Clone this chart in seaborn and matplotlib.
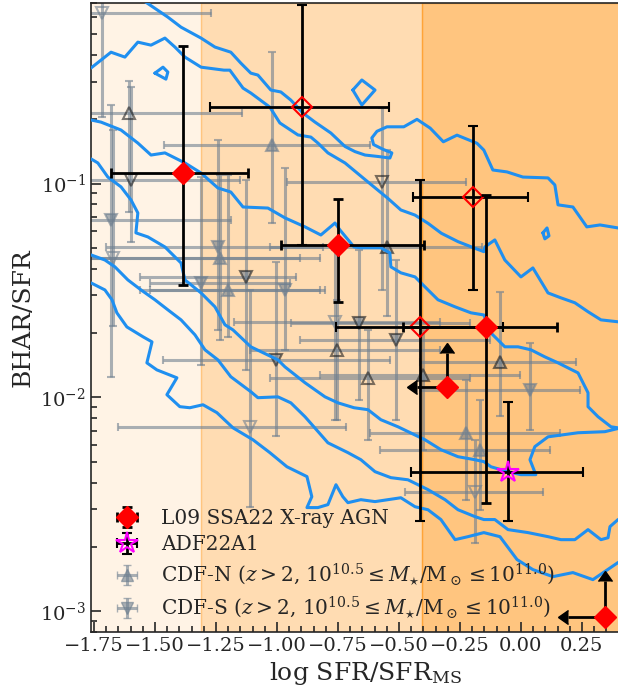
import numpy as np
import matplotlib
matplotlib.use("Agg")
import matplotlib.pyplot as plt
import seaborn as sns
from matplotlib.ticker import MultipleLocator, LogLocator, NullFormatter

sns.set_style("ticks")
plt.rcParams['font.family'] = ['DejaVu Serif']
plt.rcParams['mathtext.fontset'] = 'dejavuserif'

# ---------------- data ----------------
# L09 SSA22 X-ray AGN (filled = detections)
l09_x = [-1.385, -0.750, -0.143]
l09_logy = [-0.951, -1.286, -1.672]
l09_x_lo = [-1.682, -0.982, -0.484]
l09_x_hi = [-1.120, -0.398, 0.146]
l09_logy_lo = [-1.474, -1.554, -2.493]
l09_logy_hi = [-0.355, -1.072, -1.053]

# L09 open symbols
l09o_x = [-0.896, -0.413, -0.1955]
l09o_logy = [-0.643, -1.671, -1.061]
l09o_x_lo = [-1.275, -0.759, -0.441]
l09o_x_hi = [-0.540, -0.074, 0.030]
l09o_logy_lo = [-1.286, -2.579, -1.497]
l09o_logy_hi = [-0.164, -0.983, -0.729]

# L09 limits (upper in SFR, lower in BHAR)
l09lim_x = [-0.3045, 0.3455]
l09lim_logy = [-1.951, -3.028]
l09lim_dx = [0.123, 0.152]
l09lim_dlogy = [0.159, 0.168]

# ADF22A1
adf_x = [-0.053]
adf_logy = [-2.349]
adf_x_lo = [-0.452]
adf_x_hi = [0.254]
adf_logy_lo = [-2.579]
adf_logy_hi = [-2.019]

# CDF-N (z>2)
cdfn_x = [-1.607, -1.020, -1.234, -1.201, -0.754, -0.627, -0.402, -0.086, -0.549, -0.225, -0.168]
cdfn_logy = [-0.669, -0.819, -1.347, -1.497, -1.777, -1.908, -1.894, -1.833, -1.296, -2.165, -2.244]
cdfn_x_lo = [-2.07, -1.463, -1.80, -1.561, -1.111, -1.029, -0.824, -0.414, -1.029, -0.619, -0.578]
cdfn_x_hi = [-1.142, -0.619, -0.824, -0.824, -0.332, -0.209, -0.004, 0.225, -0.160, 0.160, 0.119]
cdfn_logy_lo = [-1.131, -1.185, -1.730, -1.716, -2.104, -2.198, -2.244, -2.085, -1.621, -2.478, -2.525]
cdfn_logy_hi = [-0.520, -0.383, -0.959, -0.959, -1.543, -1.684, -1.684, -1.505, -0.842, -1.917, -2.011]
cdfn_style = ['d', 'f', 'f', 'f', 'd', 'd', 'df', 'df', 'df', 'f', 'f']

# CDF-S (z>2)
cdfs_x = [-1.717, -1.598, -1.680, -1.672, -1.242, -1.311, -1.127, -0.967, -1.111, -1.002,
          -0.762, -0.664, -0.512, 0.039, -0.189, -0.570]
cdfs_logy = [-0.203, -0.983, -1.170, -1.347, -1.296, -1.464, -1.436, -1.497, -2.137, -1.824,
             -1.646, -1.651, -1.730, -1.964, -2.441, -0.992]
cdfs_x_lo = [-2.15, -2.05, -2.20, -2.10, -1.701, -1.520, -1.561, -1.520, -1.652, -1.467,
             -1.176, -0.943, -0.906, -0.414, -0.475, -0.959]
cdfs_x_hi = [-1.272, -1.15, -1.189, -0.906, -0.811, -0.947, -0.922, -0.803, -0.717, -0.537,
             -0.332, -0.209, -0.127, 0.242, 0.090, -0.225]
cdfs_logy_lo = [-0.687, -1.271, -1.902, -1.668, -1.684, -1.847, -1.871, -1.777, -2.511, -2.182,
                -2.104, -2.011, -2.104, -2.151, -2.679, -1.497]
cdfs_logy_hi = [-0.05, -0.55, -0.632, -0.749, -0.796, -0.967, -0.983, -0.927, -1.497, -1.364,
                -1.310, -1.310, -1.357, -1.743, -2.198, -0.646]
cdfs_style = ['o', 'd', 'f', 'o', 'f', 'f', 'df', 'f', 'o', 'df', 'o', 'df', 'df', 'f', 'o', 'd']

# density contours of the comparison sample (x, log BHAR/SFR)
contour_A_x = [-1.549, -1.447, -1.393, -1.311, -1.254, -1.189, -1.148, -1.107, -1.078, -1.025, -0.984,
               -0.943, -0.893, -0.844, -0.779, -0.721, -0.680, -0.639, -0.584, -0.537, -0.529, -0.564,
               -0.604, -0.611, -0.590, -0.549, -0.480, -0.426, -0.372, -0.318, -0.262, -0.180, -0.152,
               -0.115, -0.057, 0.008, 0.111, 0.139, 0.152, 0.213, 0.270, 0.324, 0.398, 0.52]
contour_A_ly = [-0.142, -0.221, -0.268, -0.319, -0.361, -0.385, -0.436, -0.483, -0.492, -0.562, -0.571,
                -0.609, -0.670, -0.712, -0.763, -0.826, -0.850, -0.866, -0.873, -0.880, -0.856, -0.840,
                -0.817, -0.786, -0.755, -0.734, -0.734, -0.699, -0.740, -0.804, -0.773, -0.811, -0.843,
                -0.936, -0.945, -0.969, -0.973, -1.006, -1.099, -1.109, -1.202, -1.193, -1.207, -1.25]
contour_B_x = [-1.762, -1.721, -1.680, -1.623, -1.570, -1.516, -1.459, -1.418, -1.377, -1.311, -1.217,
               -1.193, -1.139, -1.107, -1.029, -0.988, -0.914, -0.861, -0.832, -0.791, -0.721, -0.627,
               -0.545, -0.492, -0.434, -0.380, -0.326, -0.258, -0.189, -0.152, -0.148, -0.107, -0.066, 0.0,
               0.049, 0.111, 0.164, 0.221, 0.275, 0.328, 0.398, 0.52]
contour_B_ly = [-0.459, -0.422, -0.385, -0.408, -0.338, -0.352, -0.319, -0.361, -0.408, -0.455, -0.469,
                -0.469, -0.553, -0.576, -0.642, -0.716, -0.772, -0.782, -0.810, -0.856, -0.903, -0.992,
                -1.069, -1.123, -1.147, -1.186, -1.232, -1.271, -1.302, -1.318, -1.296, -1.263, -1.357, -1.436,
                -1.394, -1.511, -1.534, -1.557, -1.599, -1.637, -1.646, -1.70]
contour_C_x = [-1.762, -1.721, -1.639, -1.570, -1.516, -1.459, -1.377, -1.311, -1.242, -1.189, -1.139,
               -1.037, -0.967, -0.885, -0.820, -0.762, -0.742, -0.684, -0.656, -0.574, -0.537, -0.533,
               -0.492, -0.434, -0.393, -0.340, -0.270, -0.205, -0.152, -0.123, -0.066, -0.012, 0.041,
               0.098, 0.152, 0.234, 0.275, 0.275, 0.316, 0.369, 0.398, 0.43,
               0.398, 0.344, 0.234, 0.111, 0.057, 0.037, 0.061, 0.0, -0.053, -0.123, -0.152, -0.189, -0.258,
               -0.328, -0.393, -0.504, -0.574, -0.627, -0.684, -0.750, -0.803, -0.885, -0.967, -0.996,
               -1.107, -1.180, -1.213, -1.254, -1.311, -1.377, -1.393, -1.459, -1.529, -1.578, -1.570,
               -1.598, -1.639, -1.693, -1.734, -1.762]
contour_C_ly = [-0.702, -0.712, -0.749, -0.810, -0.866, -0.856, -0.903, -0.950, -1.020, -1.039, -1.109,
                -1.114, -1.160, -1.202, -1.240, -1.184, -1.216, -1.296, -1.300, -1.300, -1.324, -1.389,
                -1.417, -1.436, -1.483, -1.543, -1.576, -1.604, -1.614, -1.698, -1.763, -1.763, -1.777,
                -1.810, -1.838, -1.885, -1.978, -2.043, -2.090, -2.137, -2.142, -2.15,
                -2.145, -2.160, -2.165, -2.184, -2.230, -2.291, -2.361, -2.361, -2.347, -2.324, -2.300, -2.291,
                -2.277, -2.244, -2.198, -2.137, -2.104, -2.057, -2.048, -2.025, -1.997, -1.931, -1.857,
                -1.824, -1.763, -1.684, -1.660, -1.576, -1.511, -1.450, -1.371, -1.296, -1.249, -1.230,
                -1.137, -1.076, -1.015, -0.969, -0.903, -0.884]
contour_E_x = [-1.762, -1.705, -1.664, -1.611, -1.557, -1.500, -1.447, -1.393, -1.336, -1.295, -1.242,
               -1.189, -1.107, -1.078, -0.996, -0.943, -0.885, -0.791, -0.709, -0.656, -0.598, -0.533,
               -0.463, -0.381, -0.311, -0.258, -0.189, -0.152, -0.107, -0.053, 0.029, 0.111, 0.164,
               0.221, 0.275, 0.328, 0.357, 0.365, 0.398, 0.52]
contour_E_ly = [-1.333, -1.357, -1.389, -1.450, -1.497, -1.543, -1.590, -1.637, -1.707, -1.777, -1.824,
                -1.903, -1.973, -2.001, -1.997, -2.025, -2.090, -2.212, -2.258, -2.291, -2.347, -2.375,
                -2.385, -2.431, -2.478, -2.525, -2.557, -2.571, -2.571, -2.618, -2.632, -2.651, -2.665,
                -2.665, -2.618, -2.665, -2.656, -2.604, -2.571, -2.55]
contour_F_x = [-1.762, -1.705, -1.676, -1.656, -1.615, -1.549, -1.512, -1.533, -1.492, -1.410, -1.451,
               -1.398, -1.357, -1.303, -1.246, -1.180, -1.098, -1.029, -0.959, -0.877, -0.857, -0.877,
               -0.832, -0.791, -0.758, -0.730, -0.709, -0.656, -0.598, -0.545, -0.492, -0.434, -0.381,
               -0.328, -0.270, -0.217, -0.152, -0.086, -0.016, 0.049, 0.131, 0.213, 0.295, 0.398, 0.52]
contour_F_ly = [-1.464, -1.497, -1.543, -1.604, -1.670, -1.716, -1.740, -1.838, -1.871, -1.908, -1.987,
                -2.043, -2.048, -2.034, -2.071, -2.142, -2.198, -2.258, -2.324, -2.370, -2.464, -2.515,
                -2.515, -2.501, -2.408, -2.464, -2.492, -2.478, -2.487, -2.478, -2.469, -2.511, -2.525,
                -2.571, -2.665, -2.651, -2.632, -2.651, -2.758, -2.805, -2.838, -2.819, -2.852, -2.772, -2.70]
island1_x = [-1.500, -1.467, -1.447, -1.455, -1.500]
island1_ly = [-0.483, -0.455, -0.478, -0.511, -0.483]
island2_x = [-0.689, -0.652, -0.598, -0.652, -0.689]
island2_ly = [-0.562, -0.515, -0.562, -0.632, -0.562]
island3_x = [0.090, 0.107, 0.115, 0.098, 0.090]
island3_ly = [-1.230, -1.207, -1.244, -1.258, -1.230]

# SFR/SFR_MS regimes
regime_edges = [-3.0, -1.310, -0.406, 1.0]
regime_alpha = [0.1, 0.3, 0.5]

# ---------------- figure ----------------
W, H = 618, 692
XMIN, XMAX = -1.762, 0.49
fig = plt.figure(figsize=(W / 100, H / 100), dpi=100)
ax_w_px = (XMAX - XMIN) * 244.0
ax = fig.add_axes([91 / W, 1 - 632 / H, ax_w_px / W, (632 - 3) / H])
ax.set_yscale('log')

for i in range(3):
    ax.axvspan(regime_edges[i], regime_edges[i + 1], color='darkorange',
               alpha=regime_alpha[i], zorder=0, lw=1)

blue = '#1f8ff0'
def logs(v):
    return 10 ** np.asarray(v, dtype=float)

grey = '#708090'
def draw_grey(xs, lys, xlo, xhi, ylo, yhi, styles, mk):
    for i in range(len(xs)):
        x = xs[i]; y = 10 ** lys[i]
        xe = [[x - xlo[i]], [xhi[i] - x]]
        ye = [[y - 10 ** ylo[i]], [10 ** yhi[i] - y]]
        st = styles[i]
        if st == 'f':
            mfc, mec = grey, grey
        elif st == 'o':
            mfc, mec = 'none', grey
        elif st == 'd':
            mfc, mec = 'none', '#202020'
        else:
            mfc, mec = grey, '#202020'
        ax.errorbar([x], [y], xerr=xe, yerr=ye, fmt=mk, color=grey, ecolor=grey,
                    mfc=mfc, mec=mec, ms=9, mew=1.5, elinewidth=2.2, capsize=3,
                    capthick=1.5, alpha=0.6, zorder=2)

draw_grey(cdfn_x, cdfn_logy, cdfn_x_lo, cdfn_x_hi, cdfn_logy_lo, cdfn_logy_hi, cdfn_style, '^')
draw_grey(cdfs_x, cdfs_logy, cdfs_x_lo, cdfs_x_hi, cdfs_logy_lo, cdfs_logy_hi, cdfs_style, 'v')

for cx, cy in [(contour_A_x, contour_A_ly), (contour_B_x, contour_B_ly),
               (contour_C_x, contour_C_ly), (contour_E_x, contour_E_ly),
               (contour_F_x, contour_F_ly), (island1_x, island1_ly),
               (island2_x, island2_ly), (island3_x, island3_ly)]:
    sns.lineplot(x=cx, y=logs(cy), sort=False, estimator=None, color=blue,
                 lw=2.2, ax=ax, zorder=3)

def errs(xs, lys, xlo, xhi, ylo, yhi):
    xs = np.asarray(xs); y = logs(lys)
    xe = [xs - np.asarray(xlo), np.asarray(xhi) - xs]
    ye = [y - logs(ylo), logs(yhi) - y]
    return xs, y, xe, ye

x, y, xe, ye = errs(l09o_x, l09o_logy, l09o_x_lo, l09o_x_hi, l09o_logy_lo, l09o_logy_hi)
ax.errorbar(x, y, xerr=xe, yerr=ye, fmt='D', mfc='none', mec='red', mew=1.5, ms=10,
            ecolor='k', elinewidth=2, capsize=3.5, capthick=2, zorder=5)

x, y, xe, ye = errs(l09_x, l09_logy, l09_x_lo, l09_x_hi, l09_logy_lo, l09_logy_hi)
ax.errorbar(x, y, xerr=xe, yerr=ye, fmt='D', color='red', ms=11,
            ecolor='k', elinewidth=2, capsize=3.5, capthick=2, zorder=6,
            label='L09 SSA22 X-ray AGN')

ylim_ = logs(l09lim_logy)
ax.errorbar(l09lim_x, ylim_, xerr=l09lim_dx,
            yerr=logs(np.array(l09lim_logy) + np.array(l09lim_dlogy)) - ylim_,
            fmt='none', color='k', ecolor='k', elinewidth=2, capsize=5,
            xuplims=True, lolims=True, zorder=6)
ax.plot(l09lim_x, ylim_, 'D', color='red', ms=11, zorder=7)

x, y, xe, ye = errs(adf_x, adf_logy, adf_x_lo, adf_x_hi, adf_logy_lo, adf_logy_hi)
ax.errorbar(x, y, xerr=xe, yerr=ye, fmt='*', mfc='none', mec='magenta', mew=1.5, ms=16,
            ecolor='k', elinewidth=2, capsize=3.5, capthick=2, zorder=7, label='ADF22A1')

# legend proxies for grey samples
ax.errorbar([np.nan], [np.nan], xerr=[0.1], yerr=[0.1], fmt='^', color=grey, ms=9,
            elinewidth=2.2, capsize=3, alpha=0.6,
            label=r'CDF-N ($z>2$, $10^{10.5}\leq M_{\star}/\mathrm{M}_\odot\leq10^{11.0}$)')
ax.errorbar([np.nan], [np.nan], xerr=[0.1], yerr=[0.1], fmt='v', color=grey, ms=9,
            elinewidth=2.2, capsize=3, alpha=0.6,
            label=r'CDF-S ($z>2$, $10^{10.5}\leq M_{\star}/\mathrm{M}_\odot\leq10^{11.0}$)')

ax.set_xlim(XMIN, XMAX)
ax.set_ylim(8.0e-4, 0.70)
ax.xaxis.set_major_locator(MultipleLocator(0.25))
ax.xaxis.set_minor_locator(MultipleLocator(0.05))
ax.yaxis.set_major_locator(LogLocator(base=10, numticks=10))
ax.yaxis.set_minor_locator(LogLocator(base=10, subs=np.arange(2, 10), numticks=10))
ax.yaxis.set_minor_formatter(NullFormatter())
ax.tick_params(which='both', direction='in', labelsize=14, width=1.2)
ax.tick_params(which='major', length=7)
ax.tick_params(which='minor', length=4)
for s in ax.spines.values():
    s.set_linewidth(1.2)

ax.set_xlabel(r'log SFR/SFR$_{\rm MS}$', fontsize=18, labelpad=4)
ax.set_ylabel('BHAR/SFR', fontsize=18, labelpad=4)

ax.legend(loc='lower left', frameon=False, fontsize=14.5, handletextpad=0.8,
          borderaxespad=0.0, bbox_to_anchor=(10 / ax_w_px, 3 / 629),
          labelspacing=0.35, handlelength=1.8)

fig.savefig('out.png', dpi=100)
